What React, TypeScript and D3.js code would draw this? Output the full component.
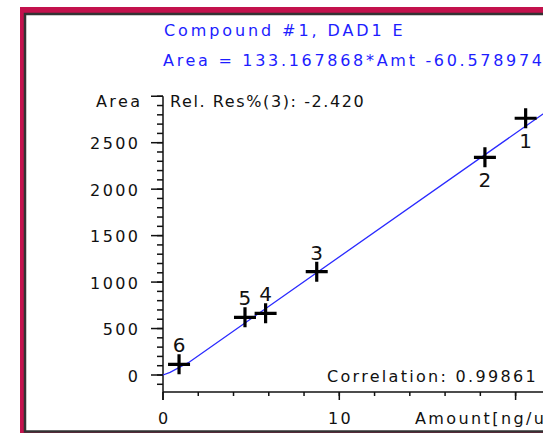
import React, { useEffect, useRef } from "react";
import * as d3 from "d3";

// calibration levels
const levelNames = ["1", "2", "3", "4", "5", "6"];
const amounts = [20.57, 18.26, 8.72, 5.82, 4.65, 0.91];
const areas = [2763, 2343, 1112, 664, 621, 115];
const labelBelow = [true, true, false, false, false, false];

// drawn calibration line (bends into the origin)
const fitAmounts = [0, 0.4, 1.5, 22];
const fitAreas = [0, 29, 140, 2869];

const yLabelTicks = [0, 500, 1000, 1500, 2000, 2500];
const yMajorTicks = [0, 500, 1000, 1500, 2000, 2500, 3000];
const xMajorTicks = [0, 10, 20];
const xLabelTicks = [0, 10];

const title = "Compound #1, DAD1 E";
const equation = "Area = 133.167868*Amt -60.578974";
const relRes = "Rel. Res%(3): -2.420";
const correlation = "Correlation: 0.99861";

const W = 543;
const H = 433;
const FONT = "DejaVu Sans, sans-serif";
const BLUE = "#1d1dff";

const App = () => {
  const ref = useRef<SVGSVGElement>(null);

  useEffect(() => {
    const svg = d3.select(ref.current);
    svg.selectAll("*").remove();

    const x = d3.scaleLinear().domain([0, 10]).range([163, 339.3]);
    const y = d3.scaleLinear().domain([0, 2500]).range([375, 142.7]);
    const yBottom = -183;
    const axisY = y(yBottom);
    const x0 = x(0);

    // window frame
    svg.append("rect").attr("x", 20).attr("y", 7).attr("width", 600).attr("height", 500).attr("fill", "#c3124d");
    svg
      .append("rect")
      .attr("x", 25)
      .attr("y", 14)
      .attr("width", 600)
      .attr("height", 417.5)
      .attr("fill", "#fff")
      .attr("stroke", "#333")
      .attr("stroke-width", 2.5);

    // header text
    svg
      .append("text")
      .attr("x", 164)
      .attr("y", 36)
      .attr("fill", BLUE)
      .attr("font-family", FONT)
      .attr("font-size", 16)
      .attr("letter-spacing", 2.9)
      .text(title);
    svg
      .append("text")
      .attr("x", 163)
      .attr("y", 66)
      .attr("fill", BLUE)
      .attr("font-family", FONT)
      .attr("font-size", 16)
      .attr("letter-spacing", 2.7)
      .text(equation);

    // axes
    const ax = svg.append("g").attr("stroke", "#111").attr("stroke-width", 1.5);
    ax.append("line").attr("x1", x0).attr("x2", x0).attr("y1", y(3000)).attr("y2", axisY + 8);
    ax.append("line").attr("x1", x0).attr("x2", W + 10).attr("y1", axisY).attr("y2", axisY);

    ax.selectAll("line.ymin")
      .data(d3.range(-100, 3001, 100))
      .join("line")
      .attr("class", "ymin")
      .attr("x1", x0 - 6)
      .attr("x2", x0)
      .attr("y1", (d) => y(d))
      .attr("y2", (d) => y(d));
    ax.selectAll("line.ymaj")
      .data(yMajorTicks)
      .join("line")
      .attr("class", "ymaj")
      .attr("x1", x0 - 12)
      .attr("x2", x0)
      .attr("y1", (d) => y(d))
      .attr("y2", (d) => y(d));
    ax.selectAll("line.xmin")
      .data(d3.range(2, 24, 2))
      .join("line")
      .attr("class", "xmin")
      .attr("x1", (d) => x(d))
      .attr("x2", (d) => x(d))
      .attr("y1", axisY)
      .attr("y2", axisY + 4);
    ax.selectAll("line.xmaj")
      .data(xMajorTicks)
      .join("line")
      .attr("class", "xmaj")
      .attr("x1", (d) => x(d))
      .attr("x2", (d) => x(d))
      .attr("y1", axisY)
      .attr("y2", axisY + 8);

    const txt = svg.append("g").attr("font-family", FONT).attr("font-size", 16).attr("fill", "#111");
    txt
      .selectAll("text.ylab")
      .data(yLabelTicks)
      .join("text")
      .attr("class", "ylab")
      .attr("x", 138 + 2.4)
      .attr("y", (d) => y(d) + 6.5)
      .attr("text-anchor", "end")
      .attr("letter-spacing", 2.4)
      .text((d) => String(d));
    txt
      .append("text")
      .attr("x", 140 + 2.4)
      .attr("y", 107)
      .attr("text-anchor", "end")
      .attr("letter-spacing", 2.4)
      .text("Area");
    txt
      .selectAll("text.xlab")
      .data(xLabelTicks)
      .join("text")
      .attr("class", "xlab")
      .attr("x", (d) => x(d) + 1.2)
      .attr("y", 424)
      .attr("text-anchor", "middle")
      .attr("letter-spacing", 2.4)
      .text((d) => String(d));
    txt.append("text").attr("x", 415).attr("y", 424).attr("letter-spacing", 2.4).text("Amount[ng/ul]");
    txt.append("text").attr("x", 170).attr("y", 107).attr("letter-spacing", 1.6).text(relRes);
    txt.append("text").attr("x", 327).attr("y", 382).attr("letter-spacing", 2.3).text(correlation);

    // calibration line
    const line = d3
      .line<number>()
      .x((d) => x(fitAmounts[d]))
      .y((d) => y(fitAreas[d]));
    svg
      .append("path")
      .attr("d", line(d3.range(fitAmounts.length)))
      .attr("fill", "none")
      .attr("stroke", "#2a2aff")
      .attr("stroke-width", 1.3);

    // calibration points
    const pts = svg
      .selectAll("g.pt")
      .data(d3.range(amounts.length))
      .join("g")
      .attr("class", "pt")
      .attr("transform", (i) => `translate(${x(amounts[i])},${y(areas[i])})`);
    pts
      .append("path")
      .attr("d", "M-11,0H11M0,-10V10")
      .attr("stroke", "#000")
      .attr("stroke-width", 3.2);
    pts
      .append("text")
      .attr("y", (i) => (labelBelow[i] ? 30 : -12))
      .attr("text-anchor", "middle")
      .attr("font-family", FONT)
      .attr("font-size", 20)
      .attr("fill", "#111")
      .text((i) => levelNames[i]);
  }, []);

  return (
    <svg
      ref={ref}
      width={W}
      height={H}
      style={{ position: "absolute", left: 0, top: 0, background: "#fff" }}
    />
  );
};

export default App;
